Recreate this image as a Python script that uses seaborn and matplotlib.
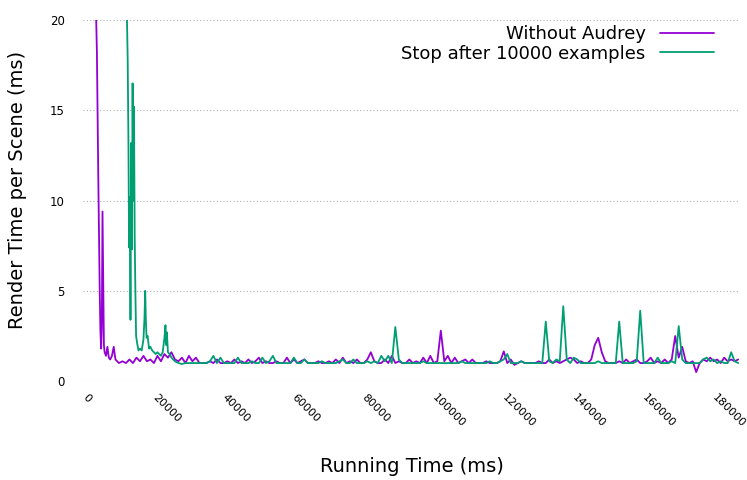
import numpy as np
import pandas as pd
import matplotlib
matplotlib.use("Agg")
import matplotlib.pyplot as plt
import seaborn as sns

# Render time samples (ms)
label_a = "Without Audrey"
label_b = "Stop after 10000 examples"

# early part, sampled finely
a_time_head = [2500, 2700, 2900, 3100, 3300, 3500, 3700, 3900, 4100, 4300,
               4500, 4700, 4900, 5300, 5700, 6100, 6500, 7000, 7500, 8000,
               8500, 9000, 10000, 11000, 12000, 13000, 14000, 15000, 16000,
               17000, 18000, 19000, 20000, 21000, 22000, 23000, 24000, 25000]
a_ms_head = [20.0, 18.2, 14.6, 11.2, 8.2, 5.0, 2.8, 1.8, 3.0, 9.4,
             5.5, 2.0, 1.6, 1.4, 1.9, 1.3, 1.2, 1.4, 1.9, 1.2,
             1.1, 1.0, 1.1, 1.0, 1.2, 1.0, 1.3, 1.1, 1.4,
             1.1, 1.2, 1.0, 1.4, 1.1, 1.5, 1.3, 1.6, 1.2]

b_time_head = [11300, 11500, 11700, 11900, 12100, 12300, 12500, 12700, 12900,
               13100, 13300, 13500, 13700, 13900, 14200, 14600, 15000, 15500,
               16000, 16300, 16500, 16700, 16900, 17200, 17600, 18000, 18500,
               19000, 19500, 20000, 20500, 21000, 21500, 22000, 22300, 22500,
               22700, 23000, 23500, 24000, 24500, 25000]
b_ms_head = [20.0, 17.8, 13.5, 7.4, 10.2, 3.4, 13.2, 7.3, 16.5,
             10.0, 15.2, 8.0, 4.9, 2.5, 2.1, 1.7, 1.8, 1.7,
             2.3, 3.5, 5.0, 3.3, 2.4, 2.5, 1.8, 1.9, 1.7,
             1.6, 1.5, 1.6, 1.5, 1.4, 1.6, 2.4, 3.1, 2.0,
             2.7, 1.6, 1.5, 1.3, 1.2, 1.1]

# rest of the run, one sample per second (26000 .. 186000 ms)
tail_time = list(range(26000, 187000, 1000))
a_ms_tail = [1.1, 1.3, 1.0, 1.4, 1.1, 1.3, 1.0, 1.0, 1.0, 1.1,
             1.0, 1.2, 1.0, 1.0, 1.1, 1.0, 1.2, 1.0, 1.1, 1.0,
             1.2, 1.0, 1.1, 1.3, 1.0, 1.1, 1.0, 1.0, 1.1, 1.0,
             1.0, 1.3, 1.0, 1.2, 1.0, 1.1, 1.2, 1.0, 1.0, 1.0,
             1.1, 1.0, 1.0, 1.1, 1.0, 1.2, 1.0, 1.3, 1.0, 1.1,
             1.0, 1.2, 1.0, 1.0, 1.2, 1.6, 1.1, 1.0, 1.0, 1.2,
             1.0, 1.4, 1.0, 1.1, 1.0, 1.0, 1.2, 1.0, 1.1, 1.0,
             1.3, 1.0, 1.4, 1.0, 1.1, 2.8, 1.1, 1.4, 1.0, 1.3,
             1.0, 1.1, 1.2, 1.0, 1.2, 1.0, 1.0, 1.0, 1.1, 1.0,
             1.0, 1.0, 1.1, 1.65, 1.0, 1.2, 0.9, 1.0, 1.1, 1.0,
             1.0, 1.0, 1.0, 1.1, 1.0, 1.0, 1.2, 1.0, 1.1, 1.0,
             1.1, 1.2, 1.3, 1.2, 1.0, 1.1, 1.0, 1.0, 1.2, 2.0,
             2.4, 1.6, 1.1, 1.0, 1.0, 1.0, 1.1, 1.0, 1.2, 1.0,
             1.1, 1.2, 1.0, 1.0, 1.1, 1.3, 1.0, 1.1, 1.0, 1.2,
             1.0, 1.2, 2.5, 1.3, 1.9, 1.1, 1.0, 1.1, 0.5, 1.0,
             1.2, 1.1, 1.3, 1.1, 1.2, 1.0, 1.3, 1.1, 1.2, 1.1,
             1.2]
b_ms_tail = [1.0, 0.95, 1.0, 1.0, 1.0, 1.0, 1.0, 1.0, 1.0, 1.1,
             1.4, 1.0, 1.3, 1.0, 1.0, 1.0, 1.0, 1.3, 1.0, 1.0,
             1.0, 1.1, 1.0, 1.0, 1.3, 1.0, 1.1, 1.4, 1.0, 1.0,
             1.0, 1.0, 1.0, 1.3, 1.0, 1.0, 1.2, 1.0, 1.0, 1.0,
             1.0, 1.1, 1.0, 1.0, 1.0, 1.0, 1.1, 1.2, 1.0, 1.0,
             1.2, 1.0, 1.0, 1.0, 1.1, 1.0, 1.1, 1.0, 1.4, 1.1,
             1.4, 1.0, 3.0, 1.2, 1.0, 1.0, 1.0, 1.0, 1.0, 1.0,
             1.1, 1.0, 1.0, 1.0, 1.0, 1.0, 1.0, 1.0, 1.0, 1.0,
             1.0, 1.1, 1.0, 1.0, 1.0, 1.0, 1.0, 1.0, 1.0, 1.1,
             1.0, 1.0, 1.1, 1.2, 1.5, 1.0, 1.0, 1.0, 1.1, 1.0,
             1.0, 1.0, 1.0, 1.0, 1.0, 3.3, 1.1, 1.0, 1.2, 1.1,
             4.15, 1.2, 1.0, 1.3, 1.2, 1.0, 1.0, 1.0, 1.0, 1.0,
             1.1, 1.0, 1.0, 1.0, 1.0, 1.0, 3.3, 1.0, 1.0, 1.0,
             1.0, 1.1, 3.9, 1.0, 1.0, 1.0, 1.0, 1.3, 1.0, 1.0,
             1.0, 1.1, 1.0, 3.05, 1.2, 1.0, 1.0, 1.0, 1.0, 1.0,
             1.2, 1.3, 1.1, 1.2, 1.0, 1.1, 1.0, 1.0, 1.6, 1.1,
             1.0]

y_ticks = [0, 5, 10, 15, 20]
x_ticks = list(range(0, 180001, 20000))

colors = {label_a: "#9400d3", label_b: "#009e73"}

df = pd.concat([
    pd.DataFrame({"time": a_time_head + tail_time, "ms": a_ms_head + a_ms_tail, "series": label_a}),
    pd.DataFrame({"time": b_time_head + tail_time, "ms": b_ms_head + b_ms_tail, "series": label_b}),
])

sns.set_style("white")
plt.rcParams["font.family"] = ["DejaVu Sans"]
plt.rcParams["text.color"] = "black"
plt.rcParams["axes.labelcolor"] = "black"
plt.rcParams["xtick.color"] = "black"
plt.rcParams["ytick.color"] = "black"

fig = plt.figure(figsize=(7.47, 4.80), dpi=100)
ax = fig.add_axes([0.111, 0.206, 0.880, 0.752])

sns.lineplot(data=df, x="time", y="ms", hue="series", palette=colors,
             estimator=None, sort=False, lw=1.3, ax=ax, legend=False)

ax.set_xlim(-1300, 186600)
ax.set_ylim(0, 20)
ax.set_yticks(y_ticks)
ax.set_xticks(x_ticks)
ax.set_xticklabels([str(t) for t in x_ticks], rotation=-45, ha="left", va="top",
                   rotation_mode="anchor", fontsize=8)
ax.tick_params(axis="y", labelsize=8.5, length=0, pad=13)
ax.tick_params(axis="x", length=0, pad=8)
ax.grid(axis="y", color="#b0b0b0", linestyle=(0, (1, 2)), lw=0.8)
ax.grid(axis="x", visible=False)
for s in ax.spines.values():
    s.set_visible(False)

ax.set_xlabel("Running Time (ms)", fontsize=14)
ax.xaxis.set_label_coords(0.5, -0.21)
ax.set_ylabel("Render Time per Scene (ms)", fontsize=14)
ax.yaxis.set_label_coords(-0.085, 0.53)

handles = [plt.Line2D([], [], color=colors[k], lw=1.3) for k in (label_a, label_b)]
ax.legend(handles, [label_a, label_b], loc="upper right", frameon=False,
          markerfirst=False, fontsize=13, handlelength=3.0, handletextpad=0.8,
          labelspacing=0.1, borderaxespad=0.2, bbox_to_anchor=(0.977, 1.017))

plt.savefig("out.png", dpi=100)
